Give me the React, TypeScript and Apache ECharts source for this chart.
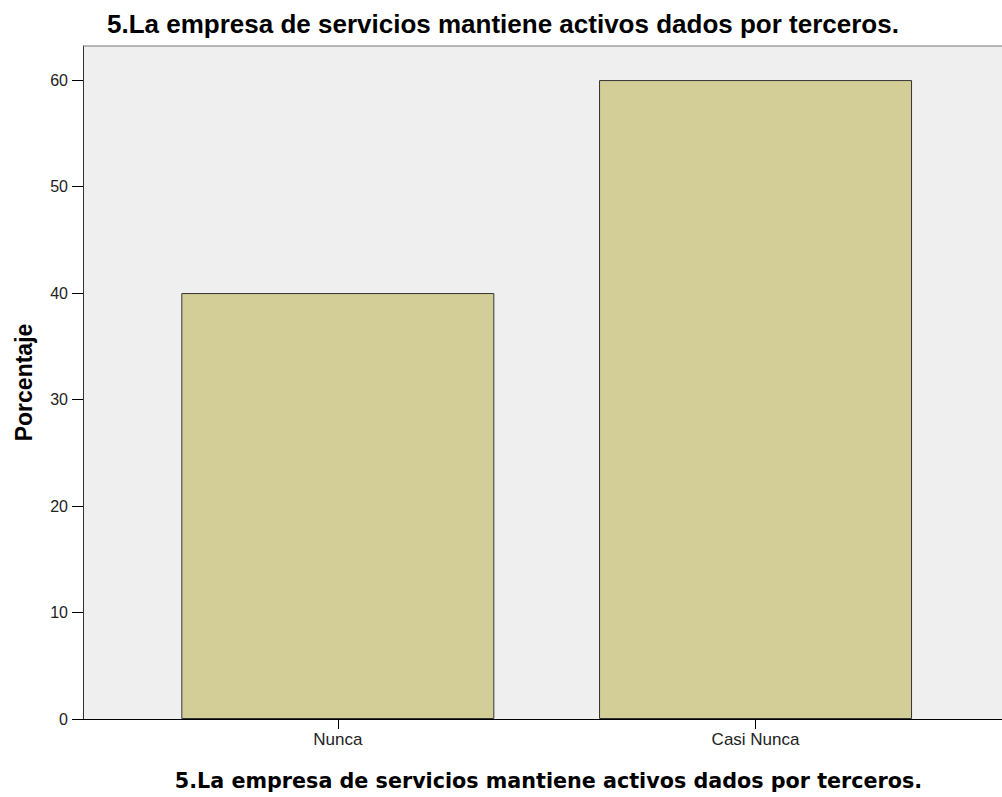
import React, { useEffect, useRef } from "react";
import * as echarts from "echarts";

const categories = ["Nunca", "Casi Nunca"];
const values = [40, 60];
const yTicks = [0, 10, 20, 30, 40, 50, 60];
const titleText = "5.La empresa de servicios mantiene activos dados por terceros.";
const yName = "Porcentaje";

export default function App() {
  const ref = useRef<HTMLDivElement>(null);
  useEffect(() => {
    document.body.style.margin = "0";
    const chart = echarts.init(ref.current!, null, { renderer: "svg" });
    const catIdx = categories.map((_, i) => i);
    chart.setOption({
      animation: false,
      backgroundColor: "#ffffff",
      title: {
        text: titleText,
        left: 102,
        top: 6,
        textStyle: { fontFamily: "Liberation Sans", fontWeight: "bold", fontSize: 26, color: "#000" },
      },
      grid: { left: 83, top: 46, right: -2, bottom: 78, show: true, backgroundColor: "#efefef", borderWidth: 0 },
      xAxis: {
        type: "value",
        min: -0.61,
        max: 1.59,
        splitLine: { show: false },
        axisLine: { show: true, onZero: false, lineStyle: { color: "#000", width: 1 } },
        axisTick: { show: true, length: 10, customValues: catIdx, lineStyle: { color: "#000" } },
        axisLabel: {
          customValues: catIdx,
          formatter: (v: number) => categories[Math.round(v)] ?? "",
          fontFamily: "Liberation Sans",
          fontSize: 17,
          color: "#222",
          margin: 12,
        },
        name: titleText,
        nameLocation: "middle",
        nameGap: 51,
        nameTextStyle: { fontFamily: "DejaVu Sans", fontWeight: "bold", fontSize: 20.7, color: "#000", padding: [0, 0, 0, 12] },
      },
      yAxis: {
        type: "value",
        min: 0,
        max: 63.2,
        splitLine: { show: false },
        axisLine: { show: true, onZero: false, lineStyle: { color: "#333", width: 1 } },
        axisTick: { show: true, length: 11, customValues: yTicks, lineStyle: { color: "#000" } },
        axisLabel: {
          customValues: yTicks,
          fontFamily: "Liberation Sans",
          fontSize: 16,
          color: "#222",
          margin: 15,
        },
        name: yName,
        nameLocation: "middle",
        nameGap: 48,
        nameTextStyle: { fontFamily: "Liberation Sans", fontWeight: "bold", fontSize: 23, color: "#000" },
      },
      graphic: [
        { type: "line", shape: { x1: 83, y1: 46, x2: 1002, y2: 46 }, style: { stroke: "#777", lineWidth: 1 }, z: 10 },
      ],
      series: [
        {
          type: "bar",
          barWidth: 313,
          data: values.map((v, i) => [i, v]),
          itemStyle: { color: "#d3ce97", borderColor: "#333", borderWidth: 1 },
        },
      ],
    });
    return () => chart.dispose();
  }, []);
  return <div ref={ref} style={{ position: "absolute", left: 0, top: 0, width: 1002, height: 797 }} />;
}
